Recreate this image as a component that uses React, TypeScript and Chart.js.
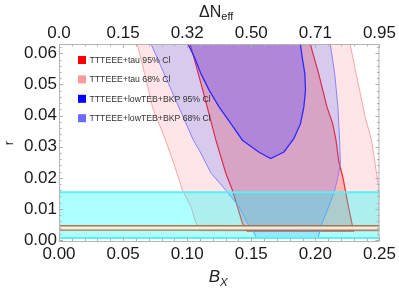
import React, { useEffect, useRef } from 'react';
import { Chart, registerables } from 'chart.js';

Chart.register(...registerables);

// ---- axis ticks ----
const X_TICKS = [0, 0.05, 0.1, 0.15, 0.2, 0.25];
const X_TICK_LABELS = ['0.00', '0.05', '0.10', '0.15', '0.20', '0.25'];
const TOP_TICK_LABELS = ['0.0', '0.15', '0.32', '0.50', '0.71', '0.95'];
const Y_TICKS = [0, 0.01, 0.02, 0.03, 0.04, 0.05, 0.06];
const Y_TICK_LABELS = ['0.00', '0.01', '0.02', '0.03', '0.04', '0.05', '0.06'];
const X_RANGE = [0, 0.25];
const Y_RANGE = [-0.0003, 0.063];

// ---- legend ----
const LEGEND_LABELS = [
  'TTTEEE+tau 95% Cl',
  'TTTEEE+tau 68% Cl',
  'TTTEEE+lowTEB+BKP 95% Cl',
  'TTTEEE+lowTEB+BKP 68% Cl',
];
const LEGEND_COLORS = ['#ff0000', '#ff9a9a', '#0000ff', '#6a6aff'];

// ---- contour regions (B_X, r) ----
const RED_OUTER: [number, number][] = [
  [0.0582, 0.0673], [0.0611, 0.0628], [0.0668, 0.0535], [0.0730, 0.0426],
  [0.0831, 0.0321], [0.0901, 0.0240], [0.0963, 0.0160], [0.1030, 0.0107],
  [0.1069, 0.0054], [0.1108, 0.0030], [0.2531, 0.0029], [0.2498, 0.0160],
  [0.2477, 0.0215], [0.2438, 0.0321], [0.2389, 0.0395], [0.2329, 0.0513],
  [0.2272, 0.0628], [0.2244, 0.0673], [0.0582, 0.0673],
];
const RED_INNER: [number, number][] = [
  [0.0994, 0.0673], [0.1025, 0.0628], [0.1122, 0.0481], [0.1224, 0.0321],
  [0.1302, 0.0214], [0.1353, 0.0160], [0.1392, 0.0107], [0.1431, 0.0054],
  [0.1457, 0.0038], [0.1467, 0.0029], [0.2298, 0.0029], [0.2259, 0.0105],
  [0.2215, 0.0201], [0.2182, 0.0254], [0.2161, 0.0321], [0.2135, 0.0374],
  [0.2091, 0.0427], [0.2026, 0.0534], [0.1962, 0.0628], [0.1933, 0.0673],
  [0.0994, 0.0673],
];
const BLUE_OUTER: [number, number][] = [
  [0.0687, 0.0673], [0.0720, 0.0628], [0.0877, 0.0481], [0.1048, 0.0321],
  [0.1095, 0.0288], [0.1186, 0.0215], [0.1302, 0.0160], [0.1405, 0.0107],
  [0.1470, 0.0054], [0.1509, 0.0032], [0.1540, 0.0008], [0.2021, 0.0008],
  [0.2053, 0.0054], [0.2104, 0.0107], [0.2151, 0.0160], [0.2182, 0.0215],
  [0.2195, 0.0247], [0.2189, 0.0321], [0.2176, 0.0427], [0.2151, 0.0534],
  [0.2117, 0.0628], [0.2104, 0.0673], [0.0687, 0.0673],
];
const BLUE_INNER: [number, number][] = [
  [0.0986, 0.0673], [0.1008, 0.0628], [0.1056, 0.0588], [0.1108, 0.0534],
  [0.1172, 0.0481], [0.1250, 0.0427], [0.1341, 0.0374], [0.1431, 0.0321],
  [0.1561, 0.0282], [0.1651, 0.0262], [0.1755, 0.0283], [0.1832, 0.0326],
  [0.1884, 0.0374], [0.1910, 0.0427], [0.1923, 0.0481], [0.1918, 0.0534],
  [0.1897, 0.0588], [0.1884, 0.0628], [0.1879, 0.0673], [0.0986, 0.0673],
];

// ---- horizontal bands (r ranges) ----
const CYAN_BAND = [0.0007, 0.0154];
const BROWN_BAND = [0.0032, 0.0046];

const FONT = '"Liberation Sans", Arial, Helvetica, sans-serif';

function band(lo: number, hi: number) {
  const x0 = X_RANGE[0] - 0.02;
  const x1 = X_RANGE[1] + 0.02;
  return [
    { x: x0, y: lo }, { x: x1, y: lo }, { x: x1, y: hi }, { x: x0, y: hi }, { x: x0, y: lo },
  ];
}
const pts = (a: [number, number][]) => a.map(([x, y]) => ({ x, y }));

const decorPlugin = {
  id: 'decor',
  afterDraw(chart: any) {
    const { ctx, chartArea: a, scales } = chart;
    const xs = scales.x;
    const ys = scales.y;
    ctx.save();
    // ticks
    ctx.strokeStyle = '#b0b0b0';
    ctx.lineWidth = 1;
    ctx.beginPath();
    for (let i = 0; i <= 25; i++) {
      const v = i / 100;
      const px = Math.round(xs.getPixelForValue(v)) + 0.5;
      const len = i % 5 === 0 ? 4 : 2.5;
      ctx.moveTo(px, a.bottom);
      ctx.lineTo(px, a.bottom - len);
      ctx.moveTo(px, a.top);
      ctx.lineTo(px, a.top + len);
    }
    for (let i = 0; i <= 31; i++) {
      const v = i * 0.002;
      const py = Math.round(ys.getPixelForValue(v)) + 0.5;
      const len = i % 5 === 0 ? 4 : 2.5;
      ctx.moveTo(a.left, py);
      ctx.lineTo(a.left + len, py);
      ctx.moveTo(a.right, py);
      ctx.lineTo(a.right - len, py);
    }
    ctx.stroke();
    // frame
    ctx.strokeStyle = '#b4b4b4';
    ctx.strokeRect(a.left + 0.5, a.top + 0.5, a.right - a.left - 1, a.bottom - a.top);

    // titles
    ctx.fillStyle = '#222';
    ctx.textBaseline = 'alphabetic';
    ctx.textAlign = 'left';
    const cx = (a.left + a.right) / 2;
    // top: ΔN_eff
    ctx.font = `16px ${FONT}`;
    const w1 = ctx.measureText('ΔN').width;
    ctx.font = `11px ${FONT}`;
    const w2 = ctx.measureText('eff').width;
    let sx = cx - 3 - (w1 + w2) / 2;
    ctx.font = `16px ${FONT}`;
    ctx.fillText('ΔN', sx, 17);
    ctx.font = `11px ${FONT}`;
    ctx.fillText('eff', sx + w1, 19.5);
    // bottom: B_X
    ctx.font = `italic 17px ${FONT}`;
    const b1 = ctx.measureText('B').width;
    ctx.font = `italic 11.5px ${FONT}`;
    const b2 = ctx.measureText('X').width;
    sx = cx - 1 - (b1 + b2) / 2;
    ctx.font = `italic 17px ${FONT}`;
    ctx.fillText('B', sx, 281.5);
    ctx.font = `italic 11.5px ${FONT}`;
    ctx.fillText('X', sx + b1, 285.5);
    // left: r
    ctx.save();
    ctx.translate(13, 143);
    ctx.rotate(-Math.PI / 2);
    ctx.font = `13px ${FONT}`;
    ctx.textAlign = 'center';
    ctx.textBaseline = 'alphabetic';
    ctx.fillText('r', 0, 0);
    ctx.restore();

    // legend
    const lx = a.left + 19;
    const ly0 = a.top + 16;
    const dy = 19.4;
    ctx.font = `8.7px ${FONT}`;
    ctx.textBaseline = 'middle';
    ctx.textAlign = 'left';
    LEGEND_LABELS.forEach((lab, i) => {
      const y = ly0 + i * dy;
      ctx.fillStyle = LEGEND_COLORS[i];
      ctx.fillRect(lx, y - 4, 8, 8);
      ctx.fillStyle = '#333';
      ctx.fillText(lab, lx + 11.5, y + 0.5);
    });
    ctx.restore();
  },
};

export default function App() {
  const ref = useRef<HTMLCanvasElement | null>(null);
  useEffect(() => {
    if (!ref.current) return;
    const layers = [
      { data: pts(RED_OUTER), backgroundColor: 'rgba(255,0,20,0.1)', borderColor: '#ffa4a4', borderWidth: 1 },
      { data: pts(RED_INNER), backgroundColor: 'rgba(255,0,0,0.21)', borderColor: '#ff2222', borderWidth: 1.2 },
      { data: pts(BLUE_OUTER), backgroundColor: 'rgba(60,90,255,0.2)', borderColor: '#8484ff', borderWidth: 1 },
      { data: pts(BLUE_INNER), backgroundColor: 'rgba(100,80,255,0.35)', borderColor: '#2a2aff', borderWidth: 1.3 },
      { data: band(CYAN_BAND[0], CYAN_BAND[1]), backgroundColor: 'rgba(0,255,255,0.32)', borderColor: '#5ef0f0', borderWidth: 2 },
      { data: band(BROWN_BAND[0], BROWN_BAND[1]), backgroundColor: 'rgba(248,238,228,0.92)', borderColor: '#a8744a', borderWidth: 1.3 },
    ];
    const n = layers.length;
    const datasets = layers.map((l, i) => ({
      ...l,
      fill: 'shape',
      pointRadius: 0,
      pointHoverRadius: 0,
      tension: 0,
      order: n - i,
      xAxisID: 'x',
      yAxisID: 'y',
    }));
    const chart = new Chart(ref.current, {
      type: 'line',
      data: { datasets: datasets as any },
      options: {
        animation: false,
        responsive: true,
        maintainAspectRatio: false,
        events: [],
        layout: { padding: { left: 0, right: 18, top: 0, bottom: 0 } },
        plugins: { legend: { display: false }, tooltip: { enabled: false } },
        scales: {
          x: {
            type: 'linear',
            position: 'bottom',
            min: X_RANGE[0],
            max: X_RANGE[1],
            afterBuildTicks: (s: any) => { s.ticks = X_TICKS.map((v) => ({ value: v })); },
            afterFit: (s: any) => { s.height = 47; },
            grid: { display: false, drawTicks: false },
            border: { display: false },
            ticks: {
              autoSkip: false,
              maxRotation: 0,
              padding: 3,
              color: '#1a1a1a',
              font: { family: FONT, size: 17 },
              callback: (_v: any, i: number) => X_TICK_LABELS[i],
            },
          },
          x2: {
            type: 'linear',
            position: 'top',
            min: X_RANGE[0],
            max: X_RANGE[1],
            afterBuildTicks: (s: any) => { s.ticks = X_TICKS.map((v) => ({ value: v })); },
            afterFit: (s: any) => { s.height = 44; },
            grid: { display: false, drawTicks: false },
            border: { display: false },
            ticks: {
              autoSkip: false,
              maxRotation: 0,
              padding: 0,
              color: '#1a1a1a',
              font: { family: FONT, size: 17 },
              callback: (_v: any, i: number) => TOP_TICK_LABELS[i],
            },
          },
          y: {
            type: 'linear',
            position: 'left',
            min: Y_RANGE[0],
            max: Y_RANGE[1],
            afterBuildTicks: (s: any) => { s.ticks = Y_TICKS.map((v) => ({ value: v })); },
            afterFit: (s: any) => { s.width = 59; },
            grid: { display: false, drawTicks: false },
            border: { display: false },
            ticks: {
              autoSkip: false,
              padding: 2,
              color: '#1a1a1a',
              font: { family: FONT, size: 17 },
              callback: (_v: any, i: number) => Y_TICK_LABELS[i],
            },
          },
        },
      },
      plugins: [decorPlugin],
    });
    return () => chart.destroy();
  }, []);
  return (
    <div style={{ position: 'fixed', left: 0, top: 0, width: 399, height: 288, background: '#fff' }}>
      <canvas ref={ref} />
    </div>
  );
}
